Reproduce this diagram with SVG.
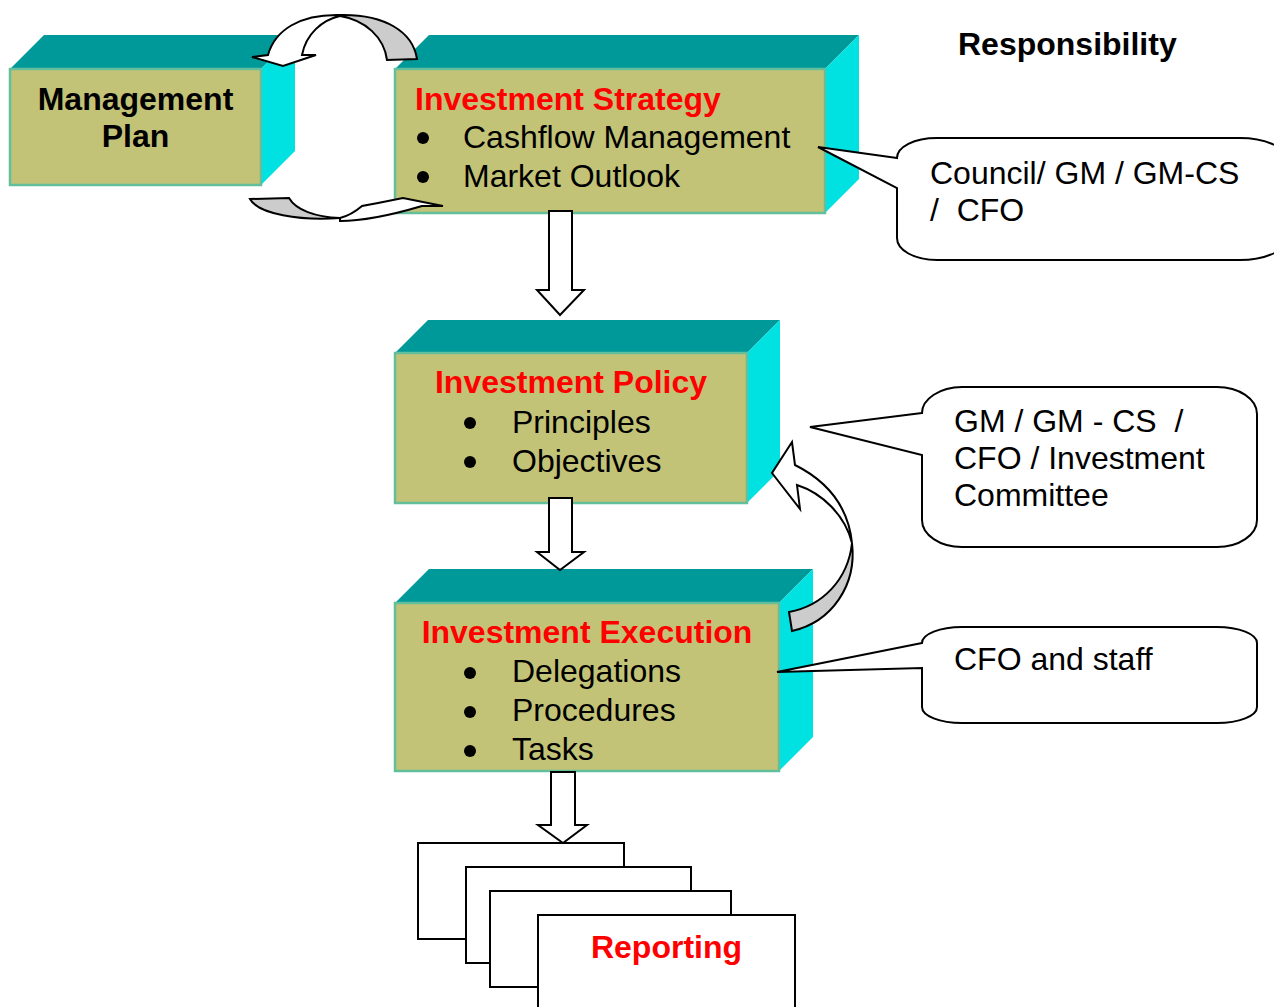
<svg xmlns="http://www.w3.org/2000/svg" width="1274" height="1007" viewBox="0 0 1274 1007">
  <style>
    .front { fill: #C3C377; stroke: #63BE9B; stroke-width: 2.5; }
    .top { fill: #009999; }
    .side { fill: #00E2E2; }
    .title { font-family: "Liberation Sans", Arial, sans-serif; font-weight: bold; font-size: 32px; fill: #FF0000; }
    .bold { font-family: "Liberation Sans", Arial, sans-serif; font-weight: bold; font-size: 32px; fill: #000000; }
    .item { font-family: "Liberation Sans", Arial, sans-serif; font-size: 32px; fill: #000000; white-space: pre; }
    .bullet { fill: #000000; }
    .outline { fill: #FFFFFF; stroke: #000000; stroke-width: 2; stroke-linejoin: miter; }
    .under { fill: #CCCCCC; stroke: #000000; stroke-width: 2; }
    .callout { fill: #FFFFFF; stroke: #000000; stroke-width: 2; }
  </style>

  <rect x="0" y="0" width="1274" height="1007" fill="#FFFFFF"/>

  <!-- Management Plan block -->
  <g id="management-plan">
    <polygon class="top" points="10,69 44,35 295,35 261,69"/>
    <polygon class="side" points="261,69 295,35 295,151 261,185"/>
    <rect class="front" x="10" y="69" width="251" height="116"/>
    <text class="bold" x="135.5" y="110" text-anchor="middle">Management</text>
    <text class="bold" x="135.5" y="147" text-anchor="middle">Plan</text>
  </g>

  <!-- Investment Strategy block -->
  <g id="investment-strategy">
    <polygon class="top" points="395,69 429,35 859,35 825,69"/>
    <polygon class="side" points="825,69 859,35 859,179 825,213"/>
    <rect class="front" x="395" y="69" width="430" height="144"/>
    <text class="title" x="415" y="110">Investment Strategy</text>
    <circle class="bullet" cx="423" cy="138" r="6"/>
    <text class="item" x="463" y="148">Cashflow Management</text>
    <circle class="bullet" cx="423" cy="177" r="6"/>
    <text class="item" x="463" y="187">Market Outlook</text>
  </g>

  <!-- Investment Policy block -->
  <g id="investment-policy">
    <polygon class="top" points="395,353 428,320 780,320 747,353"/>
    <polygon class="side" points="747,353 780,320 780,470 747,503"/>
    <rect class="front" x="395" y="353" width="352" height="150"/>
    <text class="title" x="571" y="393" text-anchor="middle">Investment Policy</text>
    <circle class="bullet" cx="470" cy="423" r="6"/>
    <text class="item" x="512" y="433">Principles</text>
    <circle class="bullet" cx="470" cy="462" r="6"/>
    <text class="item" x="512" y="472">Objectives</text>
  </g>

  <!-- Investment Execution block -->
  <g id="investment-execution">
    <polygon class="top" points="395,603 429,569 813,569 779,603"/>
    <polygon class="side" points="779,603 813,569 813,737 779,771"/>
    <rect class="front" x="395" y="603" width="384" height="168"/>
    <text class="title" x="587" y="643" text-anchor="middle">Investment Execution</text>
    <circle class="bullet" cx="470" cy="673" r="6"/>
    <text class="item" x="512" y="682">Delegations</text>
    <circle class="bullet" cx="470" cy="712" r="6"/>
    <text class="item" x="512" y="721">Procedures</text>
    <circle class="bullet" cx="470" cy="751" r="6"/>
    <text class="item" x="512" y="760">Tasks</text>
  </g>

  <!-- Reporting: stacked sheets -->
  <g id="reporting">
    <rect class="outline" x="418" y="843" width="206" height="96"/>
    <rect class="outline" x="466" y="867" width="225" height="96"/>
    <rect class="outline" x="490" y="891" width="241" height="96"/>
    <rect class="outline" x="538" y="915" width="257" height="100"/>
    <text class="title" x="666.5" y="958" text-anchor="middle">Reporting</text>
  </g>

  <!-- Responsibility heading -->
  <g id="responsibility-heading">
    <text class="bold" x="958" y="55">Responsibility</text>
  </g>

  <!-- Connectors -->
  <g id="connectors">
    <!-- strategy -> policy -->
    <path class="outline" d="M 549,211 L 572,211 L 572,290 L 584,290 L 560,315 L 537,290 L 549,290 Z"/>
    <!-- policy -> execution -->
    <path class="outline" d="M 549,498 L 572,498 L 572,552 L 584,552 L 560,570 L 537,552 L 549,552 Z"/>
    <!-- execution -> reporting -->
    <path class="outline" d="M 551,772 L 575,772 L 575,825 L 587,825 L 563,843 L 538,825 L 551,825 Z"/>

    <!-- strategy -> management plan (upper loop) -->
    <path class="under" d="M 340,15 C 385,14 413,32 417,59 L 387,60 C 384,37 365,20 340,16 Z"/>
    <path class="outline" d="M 340,15 C 300,14 275,30 268,55 L 252,57 L 283,66 L 316,55 L 302,55 C 306,34 322,20 340,16 Z"/>

    <!-- management plan -> strategy (lower loop) -->
    <path class="under" d="M 250,199 L 289,198 C 296,210 315,217 340,218 C 300,221 258,214 250,199 Z"/>
    <path class="outline" d="M 340,221 C 365,221 395,214 422,206 L 443,206 L 403,198 L 378,203 L 362,206 C 355,212 348,216 340,218 Z"/>

    <!-- execution -> policy feedback -->
    <path class="under" d="M 789,612 C 822,606 848,580 852,543 C 857,585 832,622 792,631 Z"/>
    <path class="outline" d="M 852,543 C 848,505 825,480 795,465 L 792,442 L 772,473 L 800,509 L 797,485 C 822,493 845,515 852,543 Z"/>
  </g>

  <!-- Responsibility callouts -->
  <g id="callout-strategy">
    <path class="callout" d="M 897,158 L 818,147 L 897,188 L 897,238 C 897,250 914,260 937,260 L 1240,260 C 1268,260 1292,248 1292,232 L 1292,166 C 1292,150 1268,138 1240,138 L 937,138 C 914,138 897,147 897,158 Z"/>
    <text class="item" x="930" y="184">Council/ GM / GM-CS</text>
    <text class="item" x="930" y="221">/  CFO</text>
  </g>

  <g id="callout-policy">
    <path class="callout" d="M 922,413 L 810,427 L 922,455 L 922,520 C 922,535 940,547 962,547 L 1217,547 C 1239,547 1257,535 1257,520 L 1257,414 C 1257,399 1239,387 1217,387 L 962,387 C 940,387 922,399 922,413 Z"/>
    <text class="item" x="954" y="432">GM / GM - CS  /</text>
    <text class="item" x="954" y="469">CFO / Investment</text>
    <text class="item" x="954" y="506">Committee</text>
  </g>

  <g id="callout-execution">
    <path class="callout" d="M 922,643 L 777,672 L 922,668 L 922,707 C 922,716 940,723 962,723 L 1217,723 C 1239,723 1257,716 1257,707 L 1257,643 C 1257,634 1239,627 1217,627 L 962,627 C 940,627 922,634 922,643 Z"/>
    <text class="item" x="954" y="670">CFO and staff</text>
  </g>
</svg>
